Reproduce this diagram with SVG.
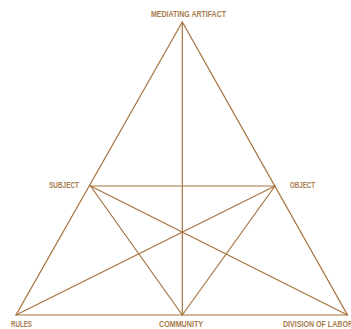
<svg xmlns="http://www.w3.org/2000/svg" width="351" height="329" viewBox="0 0 351 329">
<style>
.ln{stroke:#a6733f;stroke-width:1.2;fill:none;stroke-linecap:round}
.lb{font-family:"Liberation Sans",Arial,sans-serif;font-weight:bold;font-size:8.4px;fill:#a87b4f}
</style>
<rect width="351" height="329" fill="#ffffff"/>
<g id="connectors">
<polygon class="ln" points="182.3,22 16,315 347.5,315"/>
<line class="ln" x1="90.5" y1="186" x2="275" y2="186"/>
<line class="ln" x1="182.3" y1="22" x2="182.3" y2="315"/>
<line class="ln" x1="90.5" y1="186" x2="182.3" y2="315"/>
<line class="ln" x1="275" y1="186" x2="182.3" y2="315"/>
<line class="ln" x1="90.5" y1="186" x2="347.5" y2="315"/>
<line class="ln" x1="275" y1="186" x2="16" y2="315"/>
</g>
<g id="mediating-artifact"><text class="lb" x="151" y="17" textLength="75" lengthAdjust="spacingAndGlyphs">MEDIATING ARTIFACT</text></g>
<g id="subject"><text class="lb" x="49" y="187.5" textLength="30" lengthAdjust="spacingAndGlyphs">SUBJECT</text></g>
<g id="object"><text class="lb" x="290" y="187.5" textLength="25" lengthAdjust="spacingAndGlyphs">OBJECT</text></g>
<g id="rules"><text class="lb" x="11" y="327" textLength="21" lengthAdjust="spacingAndGlyphs">RULES</text></g>
<g id="community"><text class="lb" x="159" y="327" textLength="44" lengthAdjust="spacingAndGlyphs">COMMUNITY</text></g>
<g id="division-of-labor"><text class="lb" x="283" y="327" textLength="70" lengthAdjust="spacingAndGlyphs">DIVISION OF LABOR</text></g>
</svg>
